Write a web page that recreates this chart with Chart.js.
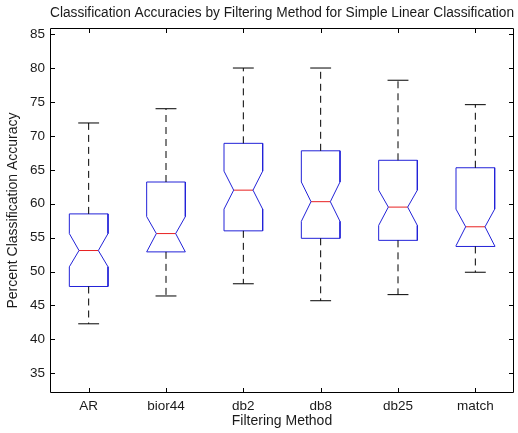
<!DOCTYPE html>
<html>
<head>
<meta charset="utf-8">
<script src="https://cdn.jsdelivr.net/npm/chart.js@4"></script>
<style>
  html, body { margin: 0; padding: 0; background: #ffffff; }
  #wrap { width: 518px; height: 433px; }
</style>
</head>
<body>
<div id="wrap"><canvas id="c" width="518" height="433"></canvas></div>
<script>
// ---- data ----
const categories  = ['AR', 'bior44', 'db2', 'db8', 'db25', 'match'];
const whiskerLow  = [42.3, 46.4, 48.2, 45.7, 46.6, 49.9];
const q1          = [47.8, 52.9, 56.0, 54.9, 54.6, 53.7];
const notchLow    = [50.7, 52.9, 59.2, 57.4, 56.8, 53.8];
const median      = [53.1, 55.6, 62.0, 60.3, 59.5, 56.6];
const notchHigh   = [55.6, 58.1, 64.8, 63.2, 62.0, 59.2];
const q3          = [58.5, 63.2, 68.9, 67.8, 66.4, 65.3];
const whiskerHigh = [71.9, 74.0, 80.0, 80.0, 78.2, 74.6];
const yTicks      = [35, 40, 45, 50, 55, 60, 65, 70, 75, 80, 85];

const BOX_HALF = 0.25, NOTCH_HALF = 0.125, CAP_HALF = 0.135;

// ---- build line datasets (null points break the lines) ----
const boxPts = [], medPts = [], whiskPts = [], capPts = [];
categories.forEach((c, k) => {
  const x = k + 1;
  boxPts.push(
    {x: x - BOX_HALF, y: q3[k]}, {x: x + BOX_HALF, y: q3[k]},
    {x: x + BOX_HALF, y: notchHigh[k]}, {x: x + NOTCH_HALF, y: median[k]},
    {x: x + BOX_HALF, y: notchLow[k]}, {x: x + BOX_HALF, y: q1[k]},
    {x: x - BOX_HALF, y: q1[k]}, {x: x - BOX_HALF, y: notchLow[k]},
    {x: x - NOTCH_HALF, y: median[k]}, {x: x - BOX_HALF, y: notchHigh[k]},
    {x: x - BOX_HALF, y: q3[k]}, {x: x, y: null}
  );
  medPts.push({x: x - NOTCH_HALF, y: median[k]}, {x: x + NOTCH_HALF, y: median[k]}, {x: x, y: null});
  whiskPts.push({x: x, y: q3[k]}, {x: x, y: whiskerHigh[k]}, {x: x, y: null},
                {x: x, y: q1[k]}, {x: x, y: whiskerLow[k]}, {x: x, y: null});
  capPts.push({x: x - CAP_HALF, y: whiskerHigh[k]}, {x: x + CAP_HALF, y: whiskerHigh[k]}, {x: x, y: null},
              {x: x - CAP_HALF, y: whiskerLow[k]}, {x: x + CAP_HALF, y: whiskerLow[k]}, {x: x, y: null});
});

const lineDs = (data, color, dash) => ({
  data, showLine: true, spanGaps: false, borderColor: color, borderWidth: 1,
  borderDash: dash || [], pointRadius: 0, pointHoverRadius: 0, fill: false, tension: 0
});

const FONT = "'Liberation Sans', Arial, sans-serif";
const TXT = '#1a1a1a';

const frame = {
  id: 'frame',
  afterDatasetsDraw(chart) {
    const {ctx, chartArea: a, scales: {x, y}} = chart;
    ctx.save();
    ctx.strokeStyle = '#000';
    ctx.lineWidth = 1;
    ctx.beginPath();
    ctx.rect(a.left + 0.5, a.top + 0.5, a.right - a.left - 1, a.bottom - a.top - 1);
    const t = 5;
    yTicks.forEach(v => {
      const py = Math.round(y.getPixelForValue(v)) + 0.5;
      ctx.moveTo(a.left, py); ctx.lineTo(a.left + t, py);
      ctx.moveTo(a.right, py); ctx.lineTo(a.right - t, py);
    });
    categories.forEach((c, k) => {
      const px = Math.round(x.getPixelForValue(k + 1)) + 0.5;
      ctx.moveTo(px, a.bottom); ctx.lineTo(px, a.bottom - t);
      ctx.moveTo(px, a.top); ctx.lineTo(px, a.top + t);
    });
    ctx.stroke();
    ctx.restore();
  }
};

new Chart(document.getElementById('c'), {
  type: 'scatter',
  data: {
    datasets: [
      lineDs(whiskPts, '#000000', [7, 5]),
      lineDs(capPts, '#000000'),
      lineDs(boxPts, '#2222d8'),
      lineDs(medPts, '#e82020')
    ]
  },
  options: {
    responsive: false,
    animation: false,
    events: [],
    layout: { padding: { left: 0, right: 4, top: 0, bottom: 0 } },
    plugins: {
      legend: { display: false },
      tooltip: { enabled: false },
      title: {
        display: true,
        fullSize: false,
        text: 'Classification Accuracies by Filtering Method for Simple Linear Classification',
        color: TXT,
        font: { family: FONT, size: 14, weight: 'normal', lineHeight: 1.2 },
        padding: { top: 4.5, bottom: 6.7 }
      }
    },
    scales: {
      x: {
        type: 'linear', min: 0.5, max: 6.5,
        afterBuildTicks: s => { s.ticks = categories.map((c, k) => ({value: k + 1})); },
        afterFit: s => { s.height = 40; },
        grid: { display: false, drawTicks: false },
        border: { display: false },
        ticks: {
          color: TXT, padding: 5, maxRotation: 0, autoSkip: false,
          font: { family: FONT, size: 13.5 },
          callback: v => categories[v - 1]
        },
        title: {
          display: true, text: 'Filtering Method', color: TXT,
          font: { family: FONT, size: 14 }, padding: { top: 0, bottom: 3.5 }
        }
      },
      y: {
        type: 'linear', min: 32.1, max: 85.9,
        afterBuildTicks: s => { s.ticks = yTicks.map(v => ({value: v})); },
        afterFit: s => { s.width = 50; },
        grid: { display: false, drawTicks: false },
        border: { display: false },
        ticks: { color: TXT, padding: 5, font: { family: FONT, size: 13.5 } },
        title: {
          display: true, text: 'Percent Classification Accuracy', color: TXT,
          font: { family: FONT, size: 14 }, padding: { top: 5, bottom: 0 }
        }
      }
    }
  },
  plugins: [frame]
});
</script>
</body>
</html>
